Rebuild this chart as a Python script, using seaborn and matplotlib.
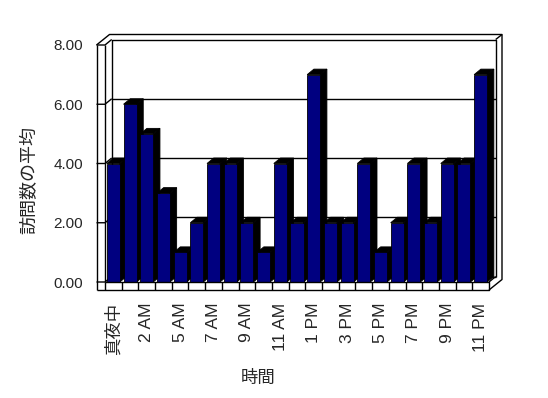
import numpy as np
import seaborn as sns
import matplotlib.pyplot as plt
from matplotlib.patches import Polygon

sns.set_style("white")
plt.rcParams["font.family"] = ["Liberation Sans", "Noto Sans CJK JP", "DejaVu Sans"]

# data
hours = ["真夜中", "1 AM", "2 AM", "3 AM", "5 AM", "6 AM", "7 AM", "8 AM", "9 AM",
         "10 AM", "11 AM", "12 PM", "1 PM", "2 PM", "3 PM", "4 PM", "5 PM", "6 PM",
         "7 PM", "8 PM", "9 PM", "10 PM", "11 PM"]
visits = [4, 6, 5, 3, 1, 2, 4, 4, 2, 1, 4, 2, 7, 2, 2, 4, 1, 2, 4, 2, 4, 4, 7]
y_ticks = [0, 2, 4, 6, 8]

W, H = 548, 398
fig = plt.figure(figsize=(W / 100, H / 100), dpi=100)
fig.patch.set_facecolor("white")

# axes placed in pixel terms (front plane of the 3D box)
ax_l, ax_r, ax_t, ax_b = 105, 489, 45, 282
ax = fig.add_axes([ax_l / W, 1 - ax_b / H, (ax_r - ax_l) / W, (ax_b - ax_t) / H])
ax.set_facecolor("none")

n = len(hours)
sns.barplot(x=hours, y=visits, color="#000080", saturation=1, width=0.78,
            edgecolor="black", linewidth=0.6, ax=ax)
ax.set_xlim(-0.5, n - 0.5)
ax.set_ylim(0, 8)

# pixel -> data scale
sx = (ax_r - ax_l) / n
sy = (ax_b - ax_t) / 8
v1 = (6.7 / sx, 5.5 / sy)     # bar depth / inner back wall
v2 = (13.0 / sx, 10.5 / sy)   # outer back wall

# 3D depth for bars (left to right so next bar hides the side)
bars = sorted(ax.patches, key=lambda p: p.get_x())
for i, p in enumerate(bars):
    x, w, h = p.get_x(), p.get_width(), p.get_height()
    p.set_zorder(4 + 2 * i)
    side = [(x + w, 0), (x + w + v1[0], v1[1]), (x + w + v1[0], h + v1[1]), (x + w, h)]
    top = [(x, h), (x + v1[0], h + v1[1]), (x + w + v1[0], h + v1[1]), (x + w, h)]
    for pts in (side, top):
        ax.add_patch(Polygon(pts, closed=True, facecolor="black", edgecolor="black",
                             linewidth=0.6, zorder=3 + 2 * i, clip_on=False))

# box / walls
xl1 = -0.5
xl0 = -0.5 - 8.5 / sx
xr = n - 0.5
yf = -8 / sy


def line(xs, ys, z=1):
    ax.plot(xs, ys, color="black", lw=1, clip_on=False, zorder=z,
            solid_capstyle="butt")


# back wall inner
bx0, bx1 = xl1 + v1[0], xr + v1[0]
line([bx0, bx0, bx1, bx1], [v1[1], 8 + v1[1], 8 + v1[1], v1[1]])
for yv in y_ticks[:-1]:
    line([bx0, bx1], [yv + v1[1], yv + v1[1]])
# ticks on the left slab and diagonals to the back wall
for yv in y_ticks:
    line([xl0, xl1, xl1 + v1[0]], [yv, yv, yv + v1[1]], z=2)
# left slab
line([xl0, xl0], [yf, 8], z=2)
line([xl1, xl1], [0, 8], z=2)
# outer back wall
line([xl0, xl0 + v2[0], xr + v2[0], xr + v2[0], xr],
     [8, 8 + v2[1], 8 + v2[1], yf + v2[1], yf])
line([bx1, xr + v2[0]], [8 + v1[1], 8 + v2[1]])
# floor
line([xl0, xr, xr, xl1], [yf, yf, 0, 0], z=60)
line([xr, xr + v1[0]], [0, v1[1]], z=2)
for k in range(n):
    line([k - 0.5, k - 0.5], [0, yf], z=60)

# axis labels / ticks
sns.despine(ax=ax, left=True, bottom=True)
ax.set_yticks(y_ticks)
ax.set_yticklabels([f"{v:.2f}" for v in y_ticks], fontsize=11)
ax.set_xticks(range(0, n, 2))
ax.set_xticklabels(hours[::2], rotation=90, fontsize=12.5)
ax.tick_params(axis="y", length=0, pad=15.6)
ax.tick_params(axis="x", length=0, pad=14.9)
ax.set_xlabel("")
ax.set_ylabel("")

fig.text(258 / W, 1 - 378 / H, "時間", ha="center", va="center", fontsize=12.5)
fig.text(30 / W, 1 - 180 / H, "訪問数の平均", ha="center", va="center",
         rotation=90, fontsize=13)

fig.savefig("out.png", dpi=100, facecolor="white")
